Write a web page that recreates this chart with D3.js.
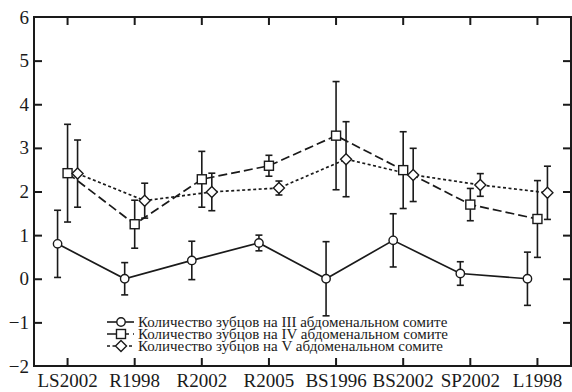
<!DOCTYPE html>
<html>
<head>
<meta charset="utf-8">
<script src="https://cdn.jsdelivr.net/npm/d3@7"></script>
<style>
  html, body { margin: 0; padding: 0; background: #fff; }
  svg { display: block; }
</style>
</head>
<body>
<svg id="chart" width="572" height="392"></svg>
<script>
// Populations (sample sites)
const categories = ["LS2002", "R1998", "R2002", "R2005", "BS1996", "BS2002", "SP2002", "L1998"];

// Mean number of teeth per abdominal somite, with error bar half-widths
const seriesIII = [0.80, 0.00, 0.42, 0.82, 0.00, 0.88, 0.12, 0.00];
const errIII    = [0.77, 0.37, 0.44, 0.18, 0.85, 0.61, 0.27, 0.61];

const seriesIV  = [2.42, 1.25, 2.28, 2.59, 3.28, 2.49, 1.70, 1.37];
const errIV     = [1.12, 0.55, 0.64, 0.24, 1.24, 0.88, 0.37, 0.88];

const seriesV   = [2.41, 1.79, 1.99, 2.08, 2.74, 2.38, 2.15, 1.97];
const errV      = [0.77, 0.40, 0.43, 0.16, 0.86, 0.61, 0.26, 0.61];

const legendLabels = [
  "Количество зубцов на III абдоменальном сомите",
  "Количество зубцов на IV абдоменальном сомите",
  "Количество зубцов на V абдоменальном сомите"
];

const yTicks = [-2, -1, 0, 1, 2, 3, 4, 5, 6];

const svg = d3.select("#chart");
const plotLeft = 34, plotRight = 571, plotTop = 17, plotBottom = 366;

const x = d3.scaleBand().domain(categories).range([plotLeft, plotRight]);
const y = d3.scaleLinear().domain([-2, 6]).range([plotBottom, plotTop]);
const cx = c => x(c) + x.bandwidth() / 2;

const series = [
  { values: seriesIII, err: errIII, shift: -10, dash: null,    marker: "circle" },
  { values: seriesIV,  err: errIV,  shift: 0,   dash: "9,4",   marker: "square" },
  { values: seriesV,   err: errV,   shift: 10,  dash: "3,2.5", marker: "diamond" }
];

const ink = "#1a1a1a";
const serif = "Liberation Serif, DejaVu Serif Condensed, DejaVu Serif, serif";

// Frame
svg.append("rect")
  .attr("x", plotLeft).attr("y", plotTop)
  .attr("width", plotRight - plotLeft).attr("height", plotBottom - plotTop)
  .attr("fill", "none").attr("stroke", ink).attr("stroke-width", 2);

const tickLen = 8;
const fmt = v => (v < 0 ? "\u2212" + Math.abs(v) : String(v));

// Left axis (ticks inward) with labels
const leftAxis = svg.append("g")
  .attr("transform", `translate(${plotLeft},0)`)
  .call(d3.axisLeft(y).tickValues(yTicks).tickSize(-tickLen).tickPadding(5).tickFormat(fmt));
// Right axis ticks (inward, no labels)
const rightAxis = svg.append("g")
  .attr("transform", `translate(${plotRight},0)`)
  .call(d3.axisRight(y).tickValues(yTicks).tickSize(-tickLen).tickFormat(""));
// Bottom axis (ticks inward) with labels
const bottomAxis = svg.append("g")
  .attr("transform", `translate(0,${plotBottom})`)
  .call(d3.axisBottom(x).tickSize(-tickLen).tickPadding(8));
// Top axis ticks
const topAxis = svg.append("g")
  .attr("transform", `translate(0,${plotTop})`)
  .call(d3.axisTop(x).tickSize(-tickLen).tickFormat(""));

[leftAxis, rightAxis, bottomAxis, topAxis].forEach(g => {
  g.attr("font-family", serif);
  g.select(".domain").remove();
  g.selectAll(".tick line").attr("stroke", ink).attr("stroke-width", 2);
  g.selectAll(".tick").filter(d => d === -2 || d === 6).select("line").remove();
});
leftAxis.selectAll("text").attr("font-size", 19).attr("fill", ink);
bottomAxis.selectAll("text").attr("font-size", 19).attr("fill", ink);

// Lines
series.forEach(s => {
  const line = d3.line()
    .x((d, i) => cx(categories[i]) + s.shift)
    .y(d => y(d));
  svg.append("path")
    .datum(s.values)
    .attr("d", line)
    .attr("fill", "none")
    .attr("stroke", ink)
    .attr("stroke-width", 1.7)
    .attr("stroke-dasharray", s.dash);
});

// Error bars
series.forEach(s => {
  const g = svg.append("g");
  s.values.forEach((v, i) => {
    const px = cx(categories[i]) + s.shift;
    const y0 = y(v - s.err[i]), y1 = y(v + s.err[i]);
    g.append("line").attr("x1", px).attr("x2", px).attr("y1", y0).attr("y2", y1)
      .attr("stroke", ink).attr("stroke-width", 1.6);
    [y0, y1].forEach(yy => g.append("line")
      .attr("x1", px - 3.5).attr("x2", px + 3.5).attr("y1", yy).attr("y2", yy)
      .attr("stroke", ink).attr("stroke-width", 1.6));
  });
});

// Markers
function drawMarker(g, type, px, py) {
  if (type === "circle") {
    g.append("circle").attr("cx", px).attr("cy", py).attr("r", 4.2)
      .attr("fill", "#fff").attr("stroke", ink).attr("stroke-width", 1.4);
  } else if (type === "square") {
    g.append("rect").attr("x", px - 4.5).attr("y", py - 4.5).attr("width", 9).attr("height", 9)
      .attr("fill", "#fff").attr("stroke", ink).attr("stroke-width", 1.4);
  } else {
    const r = 5.5;
    g.append("path")
      .attr("d", `M${px},${py - r}L${px + r},${py}L${px},${py + r}L${px - r},${py}Z`)
      .attr("fill", "#fff").attr("stroke", ink).attr("stroke-width", 1.4);
  }
}
series.forEach(s => {
  const g = svg.append("g");
  s.values.forEach((v, i) => drawMarker(g, s.marker, cx(categories[i]) + s.shift, y(v)));
});

// Legend
const legend = svg.append("g").attr("font-family", serif);
const legendY = [322, 334, 346];
series.forEach((s, i) => {
  const ly = legendY[i];
  legend.append("line")
    .attr("x1", 107).attr("x2", 134).attr("y1", ly).attr("y2", ly)
    .attr("stroke", ink).attr("stroke-width", 1.6)
    .attr("stroke-dasharray", s.dash);
  drawMarker(legend, s.marker, 121, ly);
  legend.append("text")
    .attr("x", 138).attr("y", ly + 4.5)
    .attr("font-size", 15)
    .attr("fill", ink)
    .text(legendLabels[i]);
});
</script>
</body>
</html>
